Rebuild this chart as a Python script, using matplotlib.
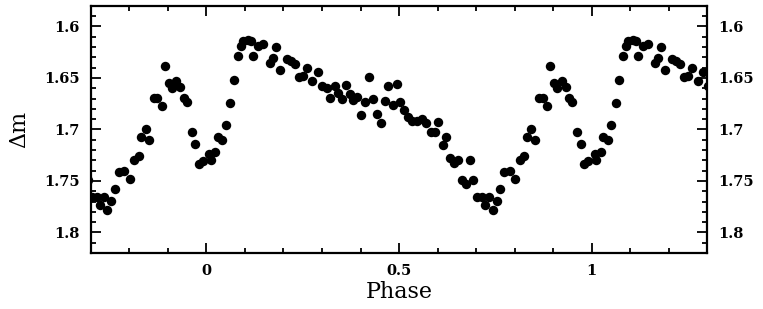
import numpy as np
import matplotlib
matplotlib.use('Agg')
import matplotlib.pyplot as plt
from matplotlib.ticker import MultipleLocator, FixedLocator

# one cycle of the folded light curve
phase = [0.008, 0.012, 0.023, 0.030, 0.041, 0.051, 0.062, 0.071, 0.082,
         0.090, 0.095, 0.108, 0.116, 0.121, 0.134, 0.147, 0.164, 0.173,
         0.181, 0.190, 0.208, 0.220, 0.229, 0.240,
         0.251, 0.261, 0.275, 0.290, 0.301, 0.312, 0.322, 0.333, 0.342,
         0.351, 0.362, 0.372, 0.381, 0.391, 0.401, 0.411, 0.423, 0.433,
         0.442, 0.452, 0.464, 0.472, 0.484, 0.494, 0.503, 0.513, 0.522,
         0.533, 0.546, 0.559, 0.570, 0.582, 0.594, 0.602, 0.614, 0.622,
         0.633, 0.643, 0.652, 0.663, 0.674, 0.683, 0.692, 0.702, 0.715,
         0.724, 0.733, 0.743, 0.753, 0.763, 0.773, 0.787, 0.802, 0.813,
         0.824, 0.831, 0.843, 0.852, 0.863, 0.873, 0.885, 0.892, 0.902,
         0.911, 0.922, 0.932, 0.941, 0.950, 0.963, 0.971, 0.980, 0.990]
dmag = [1.724, 1.730, 1.722, 1.707, 1.710, 1.696, 1.674, 1.652, 1.629,
        1.619, 1.614, 1.613, 1.614, 1.629, 1.619, 1.617, 1.635, 1.631,
        1.620, 1.642, 1.632, 1.634, 1.636, 1.649,
        1.648, 1.640, 1.653, 1.644, 1.658, 1.660, 1.669, 1.658, 1.665,
        1.670, 1.657, 1.666, 1.671, 1.668, 1.686, 1.673, 1.649, 1.670,
        1.685, 1.694, 1.672, 1.658, 1.676, 1.656, 1.673, 1.681, 1.688,
        1.692, 1.692, 1.690, 1.694, 1.702, 1.702, 1.693, 1.715, 1.707,
        1.728, 1.733, 1.730, 1.749, 1.753, 1.730, 1.749, 1.766, 1.766,
        1.773, 1.766, 1.778, 1.769, 1.758, 1.741, 1.740, 1.748, 1.730,
        1.726, 1.707, 1.700, 1.710, 1.669, 1.669, 1.677, 1.638, 1.655,
        1.660, 1.653, 1.659, 1.669, 1.673, 1.702, 1.714, 1.734, 1.731]

plt.rcParams['font.family'] = 'DejaVu Serif'

fig = plt.figure(figsize=(7.63, 3.09), dpi=100)
ax = fig.add_axes([0.119, 0.181, 0.808, 0.800])

ph = np.array(phase)
dm = np.array(dmag)
# the cycle is shown three times, shifted by one in phase
for k in (-1, 0, 1):
    ax.plot(ph + k, dm, 'o', color='black', ms=6.8, mew=0)

ax.set_xlim(-0.3, 1.3)
ax.set_ylim(1.82, 1.58)

ax.xaxis.set_major_locator(FixedLocator([0, 0.5, 1]))
ax.xaxis.set_major_formatter(plt.FixedFormatter(['0', '0.5', '1']))
ax.xaxis.set_minor_locator(MultipleLocator(0.1))
ax.yaxis.set_major_locator(FixedLocator([1.6, 1.65, 1.7, 1.75, 1.8]))
ax.yaxis.set_major_formatter(plt.FixedFormatter(['1.6', '1.65', '1.7', '1.75', '1.8']))
ax.yaxis.set_minor_locator(MultipleLocator(0.01))

ax.tick_params(which='both', direction='in', top=True, right=True,
               labelright=True, width=1.3)
ax.tick_params(which='major', length=7, labelsize=10.5, pad=8)
ax.tick_params(which='minor', length=3.5)
for lab in ax.get_xticklabels() + ax.get_yticklabels():
    lab.set_fontweight('bold')
for t in ax.yaxis.get_major_ticks():
    t.label2.set_fontweight('bold')
for s in ax.spines.values():
    s.set_linewidth(1.6)

ax.set_xlabel('Phase', fontsize=16, labelpad=2)
ax.set_ylabel('Δm', fontsize=16, labelpad=10)

fig.savefig('out.png', dpi=100)
